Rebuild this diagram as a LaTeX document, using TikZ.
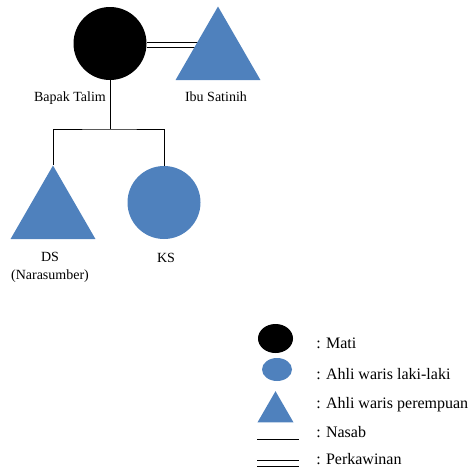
\documentclass[tikz,border=0pt]{standalone}
\usepackage{fontspec}
\setmainfont{Liberation Serif}
\usetikzlibrary{shapes.geometric,backgrounds}
\definecolor{waris}{HTML}{4F81BD}

\begin{document}
\begin{tikzpicture}
    [x=0.75pt,y=-0.75pt,
     mati/.style={circle,fill=black,inner sep=0pt},
     lakilaki/.style={circle,fill=waris,inner sep=0pt},
     perempuan/.style={regular polygon,regular polygon sides=3,fill=waris,inner sep=0pt},
     nasab/.style={black,line width=0.75pt},
     kawin/.style={black,line width=0.75pt,double=white,double distance=3pt},
     nama/.style={font=\fontsize{10.5}{13.5}\selectfont,align=center,inner sep=0pt},
     ket/.style={font=\fontsize{12}{14}\selectfont,anchor=base west,inner sep=0pt}]
    \useasboundingbox (0,0) rectangle (475,468);

    % pohon keluarga
    \node[mati,minimum size=54.75pt] (talim) at (110,43.5) {};
    \node[perempuan,minimum size=73.5pt] (satinih) at (218,55.5) {};
    \node[perempuan,minimum size=73.5pt] (ds) at (53,214.5) {};
    \node[lakilaki,minimum size=54.75pt] (ks) at (164,202.5) {};
    \coordinate (cabang) at (110,129);

    \node[nama,anchor=base] (ltalim) at (70,101.5) {Bapak Talim};
    \node[nama,anchor=base] (lsatinih) at (216,101.5) {Ibu Satinih};
    \node[nama] (lds) at (50,267) {DS\\(Narasumber)};
    \node[nama,anchor=base] (lks) at (166,262.5) {KS};

    \begin{scope}[on background layer]
        \draw[kawin] (talim.-3) -- (talim.-3 -| satinih.center);
        \draw[nasab] (talim.south) -- (cabang);
        \draw[nasab] (ds.corner 1) |- (cabang) -| (ks.north);
    \end{scope}

    % keterangan
    \node[ellipse,fill=black,inner sep=0pt,minimum width=26.25pt,minimum height=21.75pt] (kmati) at (275.5,338.5) {};
    \node[ellipse,fill=waris,inner sep=0pt,minimum width=22.5pt,minimum height=17.25pt] (kwaris) at (277,369.5) {};
    \node[perempuan,minimum size=31.2pt] (kperempuan) at (275.5,412) {};
    \coordinate (nasab1) at (257,439);
    \coordinate (nasab2) at (299,439);
    \draw[nasab] (nasab1) -- (nasab2);
    \coordinate (kawin1) at (257,463.7);
    \coordinate (kawin2) at (299,463.7);
    \draw[kawin,double distance=3.75pt] (kawin1) -- (kawin2);

    \node[ket] (tmati) at (316,348) {: Mati};
    \node[ket] (twaris) at (316,379) {: Ahli waris laki-laki};
    \node[ket] (tperempuan) at (316,408) {: Ahli waris perempuan};
    \node[ket] (tnasab) at (316,437) {: Nasab};
    \node[ket] (tkawin) at (316,464) {: Perkawinan};
\end{tikzpicture}
\end{document}
